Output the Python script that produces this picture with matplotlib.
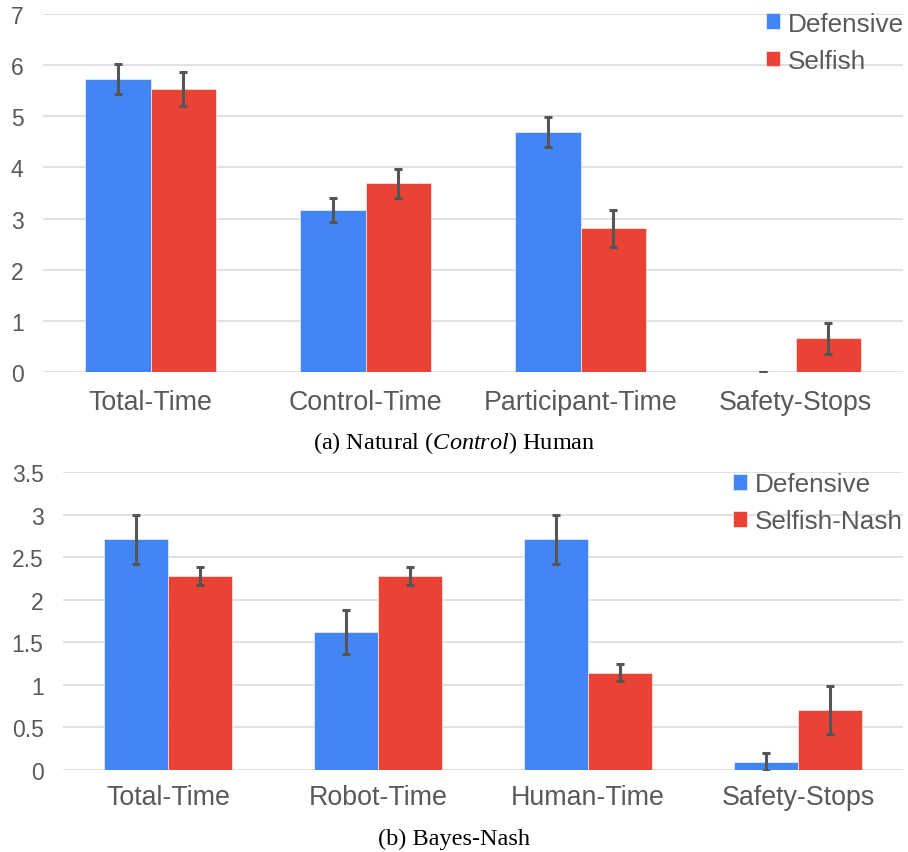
import matplotlib.pyplot as plt
import numpy as np

blue = '#4285f4'
red = '#ea4335'
grey_text = '#595959'

# (a) Natural (Control) Human
cats_a = ['Total-Time', 'Control-Time', 'Participant-Time', 'Safety-Stops']
def_a = [5.72, 3.17, 4.69, 0.0]
def_a_err = [0.29, 0.23, 0.30, 0.0]
self_a = [5.53, 3.69, 2.81, 0.66]
self_a_err = [0.33, 0.28, 0.36, 0.30]

# (b) Bayes-Nash
cats_b = ['Total-Time', 'Robot-Time', 'Human-Time', 'Safety-Stops']
def_b = [2.71, 1.62, 2.71, 0.09]
def_b_err = [0.29, 0.26, 0.29, 0.11]
self_b = [2.28, 2.28, 1.14, 0.70]
self_b_err = [0.11, 0.11, 0.10, 0.28]

plt.rcParams['font.family'] = ['Liberation Sans', 'DejaVu Sans']
plt.rcParams['mathtext.fontset'] = 'custom'
plt.rcParams['mathtext.rm'] = 'Liberation Serif'
plt.rcParams['mathtext.it'] = 'Liberation Serif:italic'

fig = plt.figure(figsize=(9.08, 8.53), dpi=100)
ax1 = fig.add_axes([0.0474, 0.5624, 0.9471, 0.4204])
ax2 = fig.add_axes([0.0694, 0.0965, 0.9251, 0.3486])


def draw(ax, cats, d, derr, s, serr, labels, ymax, ystep, xpad, legend_anchor):
    x = np.arange(len(cats))
    w = 0.305
    err_kw = dict(ecolor='#555555', elinewidth=2.2, capsize=3, capthick=2.2)
    b1 = ax.bar(x - w / 2, d, w, color=blue, yerr=derr, error_kw=err_kw,
                edgecolor='white', linewidth=0.4, label=labels[0])
    b2 = ax.bar(x + w / 2, s, w, color=red, yerr=serr, error_kw=err_kw,
                edgecolor='white', linewidth=0.4, label=labels[1])
    ax.set_xlim(-0.5, len(cats) - 0.5)
    ax.set_ylim(0, ymax)
    ticks = np.arange(0, ymax + ystep / 2, ystep)
    ax.set_yticks(ticks)
    ax.set_yticklabels(['%g' % t for t in ticks])
    ax.set_xticks(x)
    ax.set_xticklabels(cats)
    ax.grid(axis='y', color='#d9d9d9', linewidth=1.1)
    ax.set_axisbelow(True)
    for sp in ax.spines.values():
        sp.set_visible(False)
    ax.tick_params(axis='y', length=0, pad=14, labelsize=16.5, labelcolor=grey_text)
    ax.tick_params(axis='x', length=0, pad=xpad, labelsize=19.3, labelcolor=grey_text)
    leg = ax.legend(handles=[b1, b2], loc='upper left', bbox_to_anchor=legend_anchor,
                    frameon=False, fontsize=18.8, handlelength=0.55, handleheight=0.55,
                    handletextpad=0.3, labelspacing=0.5, borderaxespad=0)
    for t in leg.get_texts():
        t.set_color(grey_text)


draw(ax1, cats_a, def_a, def_a_err, self_a, self_a_err,
     ['Defensive', 'Selfish'], 7, 1, 12, (0.828, 1.035))
draw(ax2, cats_b, def_b, def_b_err, self_b, self_b_err,
     ['Defensive', 'Selfish-Nash'], 3.5, 0.5, 10, (0.785, 1.035))

serif = ['Liberation Serif', 'DejaVu Serif']
fig.text(0.5, 0.4736, '(a) Natural ($\\it{Control}$) Human', ha='center', va='baseline',
         fontsize=17.5, family=serif)
fig.text(0.5, 0.0094, '(b) Bayes-Nash', ha='center', va='baseline',
         fontsize=17.5, family=serif)

fig.savefig('out.png', dpi=100)
